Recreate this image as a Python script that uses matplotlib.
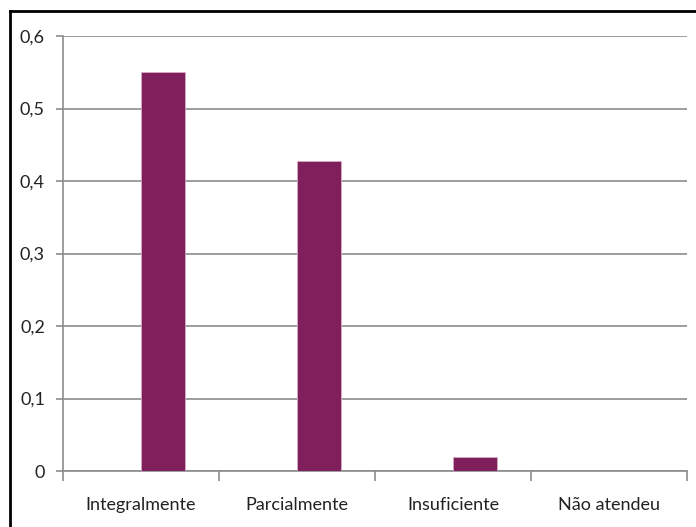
import matplotlib
matplotlib.use('Agg')
import matplotlib.pyplot as plt
from matplotlib.lines import Line2D
import numpy as np

categories = ['Integralmente', 'Parcialmente', 'Insuficiente', 'Não atendeu']
values = [0.551, 0.428, 0.019, 0.0]
yticks = [0, 0.1, 0.2, 0.3, 0.4, 0.5, 0.6]
ytick_labels = ['0', '0,1', '0,2', '0,3', '0,4', '0,5', '0,6']

plt.rcParams['font.family'] = ['Lato', 'DejaVu Sans']

W, H = 696, 527
fig = plt.figure(figsize=(W / 100, H / 100), dpi=100)
fig.patch.set_facecolor('white')

ax = fig.add_axes([63 / W, (H - 471) / H, (687 - 63) / W, (471 - 36) / H])

x = np.arange(len(categories))
ax.bar(x + 0.5, values, width=0.283, align='edge', color='#7f1f5c',
       edgecolor='#d8aac8', linewidth=0.6, zorder=3)

ax.set_xlim(0, len(categories))
ax.set_ylim(0, 0.6)
ax.set_yticks(yticks)
ax.set_yticklabels(ytick_labels, fontsize=13, color='#222222')
ax.yaxis.grid(True, color='#8c8c8c', linewidth=1.2, zorder=0)

# category labels between the boundary ticks
ax.set_xticks(np.arange(len(categories) + 1))
ax.set_xticklabels([''] * (len(categories) + 1))
ax.set_xticks(x + 0.5, minor=True)
ax.set_xticklabels(categories, minor=True, fontsize=13, color='#222222')
ax.tick_params(axis='x', which='minor', length=0, pad=19)
ax.tick_params(axis='x', which='major', length=7, color='#8c8c8c', width=1.2)
ax.tick_params(axis='y', length=5, color='#8c8c8c', width=1.2, pad=8)

for side in ['top', 'right']:
    ax.spines[side].set_visible(False)
for side in ['left', 'bottom']:
    ax.spines[side].set_color('#8c8c8c')
    ax.spines[side].set_linewidth(1.2)

# outer frame (only top and left edges visible in the crop)
fig.add_artist(Line2D([10 / W, 1], [1 - 11 / H, 1 - 11 / H], color='black', linewidth=2))
fig.add_artist(Line2D([10 / W, 10 / W], [0, 1 - 11 / H], color='black', linewidth=2))

fig.savefig('out.png', dpi=100)
